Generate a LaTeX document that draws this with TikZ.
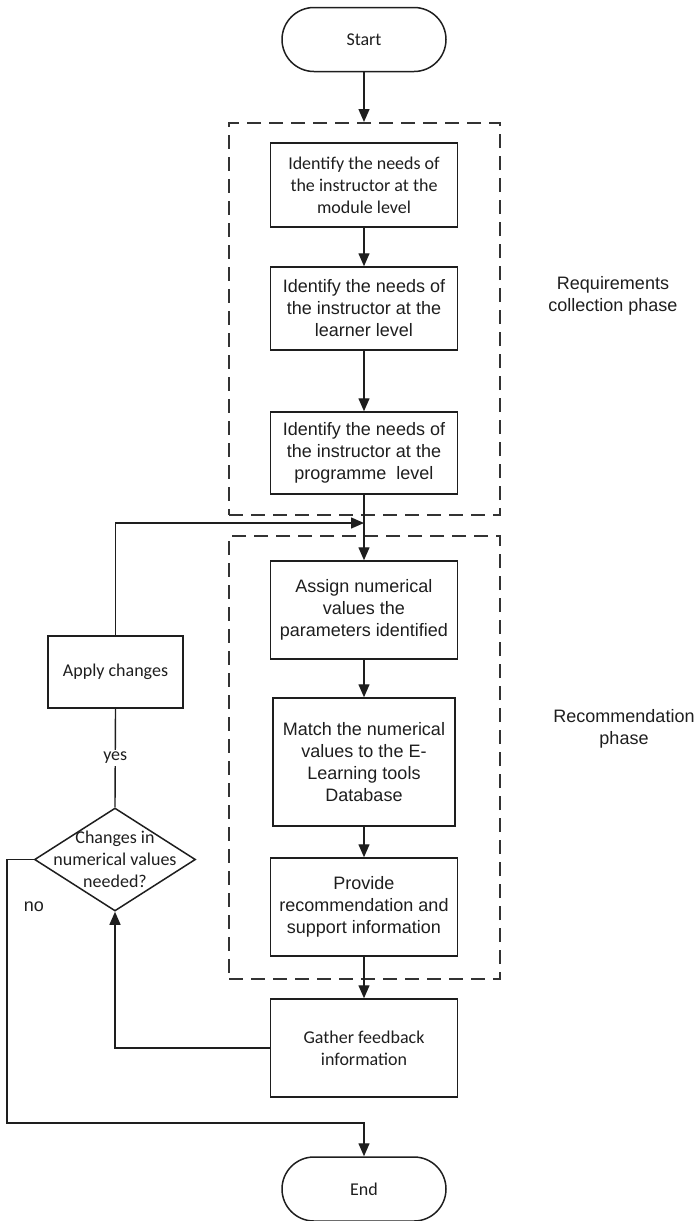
\documentclass[tikz,border=0pt]{standalone}
\usepackage{fontspec}
\setmainfont{Carlito}
\newfontfamily\arialfont{Liberation Sans}
\usetikzlibrary{arrows.meta,shapes.geometric}
\definecolor{ink}{HTML}{1E1E1E}
\definecolor{dashgray}{HTML}{333333}
\tikzset{
  every node/.style={text=ink},
  txt/.style={font=\fontsize{18}{22}\selectfont, align=center},
  atxt/.style={font=\arialfont\fontsize{18}{22}\selectfont, align=center},
  procbox/.style={draw=ink, line width=1.5pt, minimum width=187pt, inner sep=0pt},
  terminal/.style={draw=ink, line width=1.5pt, rounded corners=32pt,
    minimum width=164pt, minimum height=64pt, inner sep=0pt, txt},
  phasebox/.style={draw=dashgray, line width=2pt, dash pattern=on 14pt off 8pt,
    minimum width=271pt, inner sep=0pt},
  decision/.style={draw=ink, line width=1.5pt, diamond, minimum width=161pt,
    minimum height=103pt, inner sep=0pt},
  conn/.style={draw=ink, line width=1.4pt},
  arr/.style={conn, -{Triangle[length=13pt,width=11pt]}},
}
\begin{document}
\begin{tikzpicture}[x=1pt,y=-1pt]
\useasboundingbox (0,0) rectangle (700,1221);

% phase frames
\node[phasebox, minimum height=392pt] (req) at (364.5,319) {};
\node[phasebox, minimum height=443pt] (rec) at (364.5,757.5) {};

% main column
\node[terminal] (start) at (364,39.5) {Start};
\node[procbox, txt, minimum height=84pt] (b1) at (364,185)
  {Identify the needs of\\the instructor at the\\module level};
\node[procbox, atxt, minimum height=83pt] (b2) at (364,308.5)
  {Identify the needs of\\the instructor at the\\learner level};
\node[procbox, atxt, minimum height=82pt] (b3) at (364,453)
  {Identify the needs of\\the instructor at the\\programme~ level};
\node[procbox, atxt, minimum height=98pt] (b4) at (364,610)
  {Assign numerical\\values the\\parameters identified};
\node[procbox, atxt, minimum width=182pt, minimum height=128pt] (b5) at (364,762)
  {Match the numerical\\values to the E-\\Learning tools\\Database};
\node[procbox, atxt, minimum height=98pt] (b6) at (364,907)
  {Provide\\recommendation and\\support information};
\node[procbox, txt, minimum height=98pt] (gather) at (364,1048)
  {Gather feedback\\information};
\node[terminal] (end) at (364,1189) {End};

% feedback loop
\node[procbox, txt, minimum width=135pt, minimum height=72pt] (apply) at (115.5,672)
  {Apply changes};
\node[decision] (dec) at (115,859.5) {};
\node[txt] (dectext) at (dec.center) {Changes in\\numerical values\\needed?};

% phase labels
\node[atxt] (reqlabel) at (613,296) {Requirements\\collection phase};
\node[atxt] (reclabel) at (624,729) {Recommendation\\phase};

% connectors
\draw[arr] (start.south) -- (start |- req.north);
\draw[arr] (b1) -- (b2);
\draw[arr] (b2) -- (b3);
\draw[arr] (b3) -- (b4);
\draw[arr] (b4) -- (b5);
\draw[arr] (b5) -- (b6);
\draw[arr] (b6) -- (gather);

\coordinate (merge) at (364,523);
\draw[arr] (apply.north) |- (merge);
\draw[conn] (dec.north) -- node[txt, fill=white, inner sep=2pt] (yes) {yes} (apply.south);
\draw[arr] (gather.west) -| (dec.south);

\coordinate (nocorner) at (7,1123);
\draw[arr] (dec.west) -| (nocorner) -| (end.north);
\node[atxt] (no) at (34,907) {no};
\end{tikzpicture}
\end{document}
